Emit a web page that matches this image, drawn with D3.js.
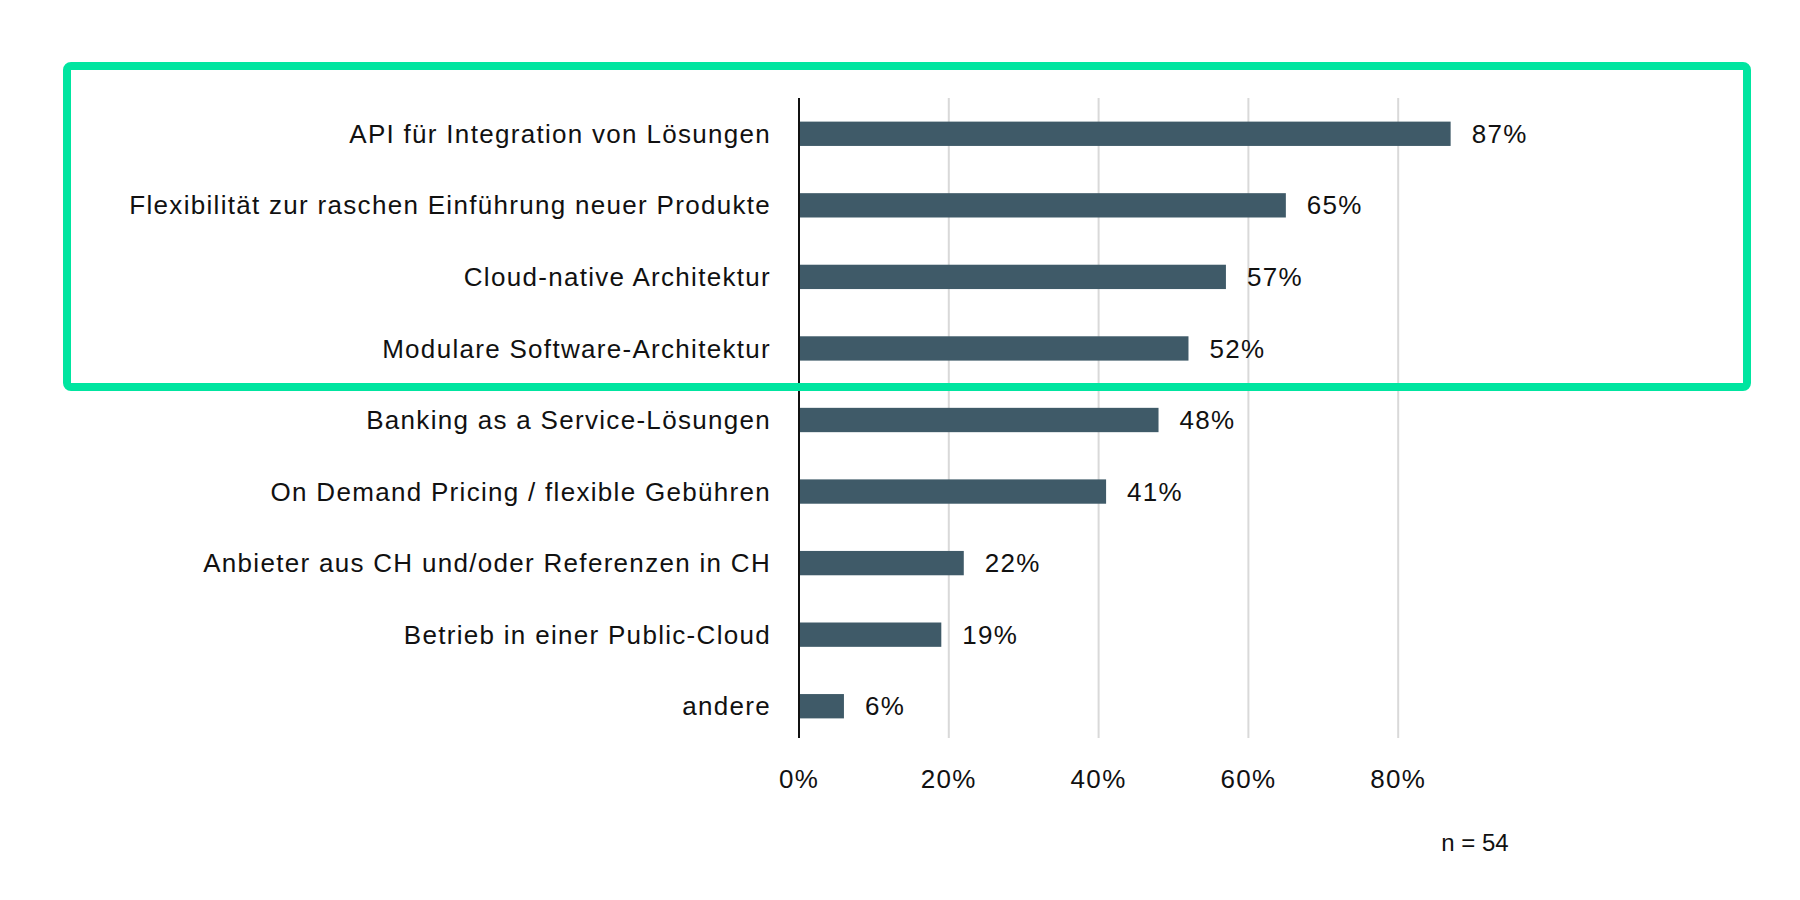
<!DOCTYPE html>
<html><head><meta charset="utf-8">
<script src="https://cdn.jsdelivr.net/npm/d3@7"></script>
<style>body{margin:0;background:#fff}svg{display:block}text{font-family:"Liberation Sans",Arial,sans-serif;fill:#111}</style>
</head><body><svg id="c" width="1800" height="900"></svg>
<script>
const categories=["API für Integration von Lösungen","Flexibilität zur raschen Einführung neuer Produkte","Cloud-native Architektur","Modulare Software-Architektur","Banking as a Service-Lösungen","On Demand Pricing / flexible Gebühren","Anbieter aus CH und/oder Referenzen in CH","Betrieb in einer Public-Cloud","andere"];
const values=[87,65,57,52,48,41,22,19,6];
const ticks=[0,20,40,60,80];
const note="n = 54";
const svg=d3.select("#c");
const x=d3.scaleLinear().domain([0,100]).range([799,1548]);
const y=d3.scaleBand().domain(categories).range([98,742]).paddingInner(0.66).paddingOuter(0.33);
svg.append("g").selectAll("line").data(ticks.slice(1)).join("line")
 .attr("x1",d=>x(d)).attr("x2",d=>x(d)).attr("y1",98).attr("y2",738).attr("stroke","#d9d9d9").attr("stroke-width",2);
svg.append("g").selectAll("rect").data(values).join("rect")
 .attr("x",x(0)).attr("y",(d,i)=>y(categories[i])).attr("width",d=>x(d)-x(0)).attr("height",y.bandwidth()).attr("fill","#3f5a68");
svg.append("line").attr("x1",x(0)).attr("x2",x(0)).attr("y1",98).attr("y2",738).attr("stroke","#111").attr("stroke-width",2);
const fs=26, ls="1.3px";
svg.append("g").selectAll("text").data(categories).join("text")
 .attr("x",771).attr("y",d=>y(d)+y.bandwidth()/2).attr("dy","0.35em").attr("text-anchor","end").attr("font-size",fs).attr("letter-spacing",ls).text(d=>d);
svg.append("g").selectAll("text").data(values).join("text")
 .attr("x",d=>x(d)+21).attr("y",(d,i)=>y(categories[i])+y.bandwidth()/2).attr("dy","0.35em").attr("font-size",fs).attr("letter-spacing",ls).text(d=>d+"%");
svg.append("g").selectAll("text").data(ticks).join("text")
 .attr("x",d=>x(d)).attr("y",779).attr("dy","0.35em").attr("text-anchor","middle").attr("font-size",fs).attr("letter-spacing",ls).text(d=>d+"%");
svg.append("text").attr("x",1475).attr("y",843).attr("dy","0.35em").attr("text-anchor","middle").attr("font-size",24).text(note);
svg.append("rect").attr("x",67).attr("y",66).attr("width",1680).attr("height",321).attr("rx",4).attr("fill","none").attr("stroke","#00e5a0").attr("stroke-width",8);
</script></body></html>
